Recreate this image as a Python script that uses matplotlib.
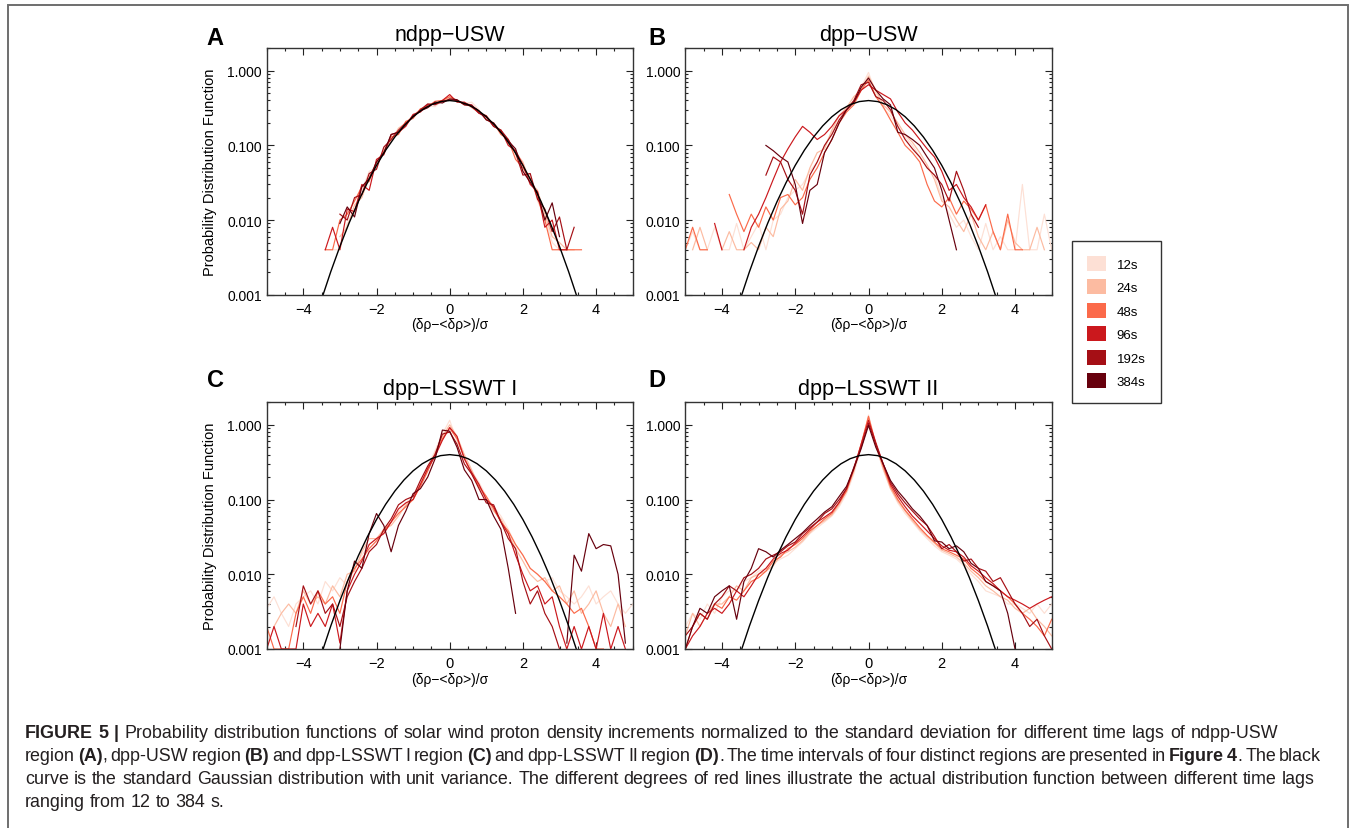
import numpy as np
import matplotlib
matplotlib.use('Agg')
import matplotlib.pyplot as plt
from matplotlib.patches import Patch, Rectangle
from matplotlib.ticker import FixedLocator, MultipleLocator, FuncFormatter, LogLocator, NullFormatter

plt.rcParams['font.family'] = ['Liberation Sans', 'DejaVu Sans']

n = np.nan

# histogram bin centres, in units of sigma
bins = np.round(np.linspace(-5, 5, 51), 1)

lags = ['12s', '24s', '48s', '96s', '192s', '384s']
lag_colors = ['#fde0d5', '#fcbba1', '#fb6a4a', '#cb181d', '#a50f15', '#67000d']

panel_letters = ['A', 'B', 'C', 'D']
panel_titles = ['ndpp\u2212USW', 'dpp\u2212USW', 'dpp\u2212LSSWT I', 'dpp\u2212LSSWT II']

# standard gaussian
gauss_x = [-3.5, -3.25, -3.0, -2.75, -2.5, -2.25, -2.0, -1.75, -1.5, -1.25, -1.0, -0.75, -0.5, -0.25, 0.0,
           0.25, 0.5, 0.75, 1.0, 1.25, 1.5, 1.75, 2.0, 2.25, 2.5, 2.75, 3.0, 3.25, 3.5]
gauss_y = [0.00087, 0.00203, 0.00443, 0.00909, 0.0175, 0.0317, 0.054, 0.0863, 0.1295, 0.1826, 0.242, 0.3011, 0.3521, 0.3867, 0.3989,
           0.3867, 0.3521, 0.3011, 0.242, 0.1826, 0.1295, 0.0863, 0.054, 0.0317, 0.0175, 0.00909, 0.00443, 0.00203, 0.00087]

# panel A: ndpp-USW
a_12s = [n,n,n,n,n, n,n,n,n,.004, .004,.009,.012,.025,.045, .05,.09,.12,.16,.19, .26,.30,.34,.33,.40,
         .42,.40,.36,.38,.30, .23,.20,.15,.12,.075, .045,.040,.018,.011,.005, .004,.004,n,n,n, n,n,n,n,n, n]
a_24s = [n,n,n,n,n, n,n,n,n,n, .006,.008,.016,.020,.038, .058,.085,.115,.17,.20, .25,.29,.35,.37,.38,
         .44,.39,.37,.32,.28, .25,.19,.16,.105,.08, .06,.032,.025,.012,.006, .005,.004,.004,n,n, n,n,n,n,n, n]
a_48s = [n,n,n,n,n, n,n,n,.004,.004, .010,.012,.018,.028,.033, .060,.082,.13,.14,.21, .23,.31,.33,.39,.40,
         .45,.40,.35,.34,.29, .22,.20,.14,.12,.065, .050,.036,.020,.010,.004, .004,.004,.004,.004,n, n,n,n,n,n, n]
a_96s = [n,n,n,n,n, n,n,n,.004,.008, .004,.014,.013,.030,.025, .065,.075,.14,.15,.18, .26,.28,.35,.36,.40,
         .48,.38,.38,.33,.27, .24,.18,.16,.10,.085, .055,.030,.024,.008,.010, .004,.004,n,n,n, n,n,n,n,n, n]
a_192s = [n,n,n,n,n, n,n,n,n,n, .012,.010,.020,.022,.042, .048,.095,.12,.16,.20, .24,.30,.36,.35,.39,
          .41,.40,.36,.35,.27, .25,.18,.16,.12,.080, .040,.042,.019,.014,.007, .011,.004,.008,n,n, n,n,n,n,n, n]
a_384s = [n,n,n,n,n, n,n,n,n,n, .009,.015,.011,.028,.036, .060,.080,.14,.15,.19, .25,.29,.32,.38,.37,
          .42,.41,.35,.34,.29, .22,.20,.15,.115,.090, .045,.032,.023,.010,.017, .006,n,n,n,n, n,n,n,n,n, n]

# panel B: dpp-USW
b_12s = [.004,.007,.004,.004,.008, .004,.004,.009,.004,.006, .009,.004,.010,.012,.020, .025,.030,.045,.060,.100,
         .15,.22,.30,.40,.60, .95,.50,.32,.25,.18, .13,.10,.07,.05,.04, .020,.012,.008,.010,.006,
         .004,.009,.004,.006,.004, .004,.030,.004,.004,.012, .004]
b_24s = [n,.004,.008,.004,n, .004,.007,.004,.004,.005, .004,.008,.006,.014,.018, .035,.025,.050,.080,.090,
         .16,.25,.32,.45,.55, .85,.55,.35,.28,.20, .14,.11,.08,.055,.035, .018,.015,.010,.007,.012,
         .006,.004,.007,.004,.010, .005,.004,.004,.008,.004, n]
b_48s = [.004,.008,.004,.004,n, n,.022,.012,.007,.012, .008,.015,.010,.020,.022, .016,.020,.035,.050,.080,
         .12,.20,.28,.35,.55, .75,.45,.33,.22,.15, .10,.08,.06,.030,.018, .015,.020,.012,.018,.014,
         .010,.016,.007,.004,.012, .004,.004,n,n,n, n]
b_96s = [n,n,n,n,.009, .004,n,n,.004,.008, .012,.020,.035,.060,.090, .13,.18,.15,.12,.14,
         .18,.25,.30,.38,.55, .65,.55,.48,.42,.28, .20,.16,.12,.09,.07, .045,.025,.030,.020,.015,
         .010,.016,n,n,n, n,n,n,n,n, n]
b_192s = [n,n,n,n,n, n,n,n,n,n, n,.040,.070,.060,.035, .025,.012,.040,.060,.10,
          .14,.22,.30,.40,.65, .70,.45,.40,.30,.18, .12,.09,.07,.05,.04, .030,.018,.045,.025,.012,
          .008,n,n,n,n, n,n,n,n,n, n]
b_384s = [n,n,n,n,n, n,n,n,n,n, n,.10,.085,.07,.06, .030,.009,.025,.030,.08,
          .12,.20,.30,.38,.60, .80,.55,.42,.35,.15, .14,.12,.10,.07,.05, .025,.010,.004,n,n,
          n,n,n,n,n, n,n,n,n,n, n]

# panel C: dpp-LSSWT I
c_12s = [.0035,.005,.003,.002,.004, .005,.006,.004,.008,.006, .009,.007,.012,.018,.025, .030,.035,.050,.070,.090,
         .11,.17,.28,.45,.75, 1.15,.60,.38,.24,.17, .11,.08,.06,.04,.025, .018,.012,.010,.008,.009,
         .006,.005,.004,.005,.007, .004,.005,.006,.004,.003, .004]
c_24s = [n,.002,.003,.004,.003, .006,.004,.005,.004,.007, .005,.010,.011,.020,.030, .030,.040,.045,.060,.085,
         .10,.16,.25,.42,.70, 1.0,.70,.40,.25,.15, .10,.07,.055,.035,.022, .015,.010,.008,.009,.006,
         .007,.004,.006,.003,.004, .006,.003,.002,.004,.002, n]
c_48s = [.002,.001,.001,.001,.003, .005,.003,.006,.004,.005, .003,.008,.012,.016,.022, .028,.038,.050,.065,.080,
         .10,.15,.24,.40,.65, .90,.65,.36,.22,.15, .11,.075,.050,.038,.025, .018,.012,.010,.008,.006,
         .005,.004,.003,.0035,.002, .001,.001,n,n,n, n]
c_96s = [.001,.002,.001,.001,.001, .004,.002,.003,.002,.004, .0012,.006,.010,.015,.025, .030,.035,.050,.075,.090,
         .10,.16,.26,.38,.62, .92,.70,.35,.23,.16, .10,.08,.05,.035,.018, .010,.006,.007,.004,.005,
         .002,.001,.002,.001,.002, .001,.003,.001,.002,.001, n]
c_192s = [n,n,n,n,.002, .007,.004,.006,.003,.004, .002,.005,.008,.012,.020, .025,.040,.055,.085,.10,
          .11,.18,.28,.40,.75, .80,.55,.30,.22,.14, .09,.085,.050,.030,.022, .008,.004,.006,.003,.002,
          .001,n,n,n,n, n,n,n,n,n, n]
c_384s = [n,n,n,n,n, n,n,n,n,n, .001,.006,.015,.012,.035, .065,.045,.020,.045,.070,
          .12,.14,.20,.35,.85, .82,.50,.25,.18,.10, .10,.06,.04,.012,.003, n,n,n,n,n,
          n,.0012,.018,.011,.035, .022,.025,.024,.010,.0012, n]

# panel D: dpp-LSSWT II
d_12s = [.002,.003,.0025,.004,.003, .005,.006,.006,.008,.009, .011,.012,.014,.016,.018, .022,.027,.035,.042,.050,
         .060,.08,.12,.22,.50, 1.35,.55,.25,.14,.09, .065,.05,.038,.030,.024, .020,.018,.016,.013,.010,
         .008,.006,.0055,.005,.004, .004,.0035,.003,.004,.003, .004]
d_24s = [.0015,.003,.002,.003,.004, .004,.005,.007,.006,.009, .010,.011,.013,.018,.020, .023,.028,.036,.045,.052,
         .062,.085,.13,.24,.55, 1.25,.52,.26,.14,.095, .07,.052,.04,.032,.026, .021,.019,.017,.014,.011,
         .009,.007,.006,.005,.0045, .0035,.003,.0035,.0025,.002, .0015]
d_48s = [.001,.002,.003,.0025,.004, .0035,.005,.0045,.006,.008, .009,.011,.015,.017,.022, .025,.030,.038,.045,.055,
         .065,.09,.13,.25,.55, 1.30,.55,.28,.15,.10, .072,.055,.042,.033,.027, .022,.020,.018,.016,.012,
         .010,.008,.007,.006,.005, .004,.003,.0025,.002,.0015, .0025]
d_96s = [.001,.0015,.002,.003,.0035, .003,.004,.006,.005,.007, .010,.012,.016,.019,.021, .026,.032,.040,.050,.058,
         .068,.092,.14,.26,.55, 1.15,.58,.30,.16,.11, .08,.06,.048,.038,.030, .024,.021,.020,.017,.013,
         .011,.009,.0075,.006,.005, .0045,.004,.0035,.004,.0045, .005]
d_192s = [.0015,.002,.003,.0025,.004, .005,.007,.006,.009,.010, .012,.016,.018,.020,.024, .027,.035,.042,.050,.065,
          .075,.10,.14,.27,.50, 1.05,.55,.30,.17,.12, .09,.07,.055,.045,.032, .022,.025,.020,.015,.016,
          .012,.011,.008,.009,.006, .004,.003,.002,.0025,.0015, .001]
d_384s = [.001,.002,.0035,.003,.005, .006,.007,.0025,.008,.012, .022,.020,.017,.021,.025, .030,.036,.045,.055,.068,
          .08,.11,.15,.26,.48, .98,.50,.30,.18,.13, .10,.075,.06,.045,.028, .027,.022,.024,.020,.014,
          .012,.008,.007,.006,.003, .001,n,n,n,n, n]

panels = [
    [a_12s, a_24s, a_48s, a_96s, a_192s, a_384s],
    [b_12s, b_24s, b_48s, b_96s, b_192s, b_384s],
    [c_12s, c_24s, c_48s, c_96s, c_192s, c_384s],
    [d_12s, d_24s, d_48s, d_96s, d_192s, d_384s],
]

caption_lines = [
    [('FIGURE 5 |', True),
     (' Probability distribution functions of solar wind proton density increments normalized to the standard deviation for different time lags of ndpp-USW', False)],
    [('region ', False), ('(A)', True), (', dpp-USW region ', False), ('(B)', True), (' and dpp-LSSWT I region ', False),
     ('(C)', True), (' and dpp-LSSWT II region ', False), ('(D)', True),
     ('. The time intervals of four distinct regions are presented in ', False), ('Figure 4', True), ('. The black', False)],
    [('curve is the standard Gaussian distribution with unit variance. The different degrees of red lines illustrate the actual distribution function between different time lags', False)],
    [('ranging from 12 to 384 s.', False)],
]

W, H = 1356, 829
fig = plt.figure(figsize=(W / 100, H / 100), dpi=100)


def fx(px):
    return px / W


def fy(py):
    return 1 - py / H


# axes boxes in pixels: left, top, right, bottom
boxes = [(266.7, 49.3, 632.7, 295.7), (685.3, 49.3, 1051.7, 295.7),
         (266.7, 403.3, 632.7, 650.0), (685.3, 403.3, 1051.7, 650.0)]
letter_pos = [(206.7, 45), (648.3, 45), (206.7, 386.7), (648.3, 386.7)]

for i, (l, t, r, b) in enumerate(boxes):
    ax = fig.add_axes([fx(l), fy(b), (r - l) / W, (b - t) / H])
    for series, col in zip(panels[i], lag_colors):
        ax.plot(bins, series, color=col, lw=0.85)
    ax.plot(gauss_x, gauss_y, color='black', lw=1.0)

    ax.set_yscale('log')
    ax.set_ylim(0.001, 2.0)
    ax.set_xlim(-5, 5)
    ax.yaxis.set_major_locator(FixedLocator([0.001, 0.01, 0.1, 1.0]))
    ax.yaxis.set_major_formatter(FuncFormatter(lambda v, p: f'{v:.3f}'))
    ax.yaxis.set_minor_locator(LogLocator(base=10, subs=np.arange(2, 10)))
    ax.yaxis.set_minor_formatter(NullFormatter())
    ax.xaxis.set_major_locator(FixedLocator([-4, -2, 0, 2, 4]))
    ax.xaxis.set_minor_locator(MultipleLocator(0.5))
    ax.tick_params(which='both', direction='in', top=True, right=True, width=0.8, color='#222222')
    ax.tick_params(which='major', length=5)
    ax.tick_params(which='minor', length=2.5)
    ax.tick_params(axis='y', which='major', labelsize=10, pad=3.6)
    ax.tick_params(axis='x', which='major', labelsize=10.5, pad=5.2)
    for sp in ax.spines.values():
        sp.set_linewidth(1.0)
        sp.set_color('#333333')

    ax.set_title(panel_titles[i], fontsize=15.5, pad=6)
    ax.set_xlabel('(\u03b4\u03c1\u2212<\u03b4\u03c1>)/\u03c3', fontsize=10)
    ax.xaxis.set_label_coords(0.5, -0.092)
    if i in (0, 2):
        ax.set_ylabel('Probability Distribution Function', fontsize=10.5)
        ax.yaxis.set_label_coords(-0.137, 0.5)

    lx, ly = letter_pos[i]
    fig.text(fx(lx), fy(ly), panel_letters[i], fontsize=17, fontweight='bold', ha='left', va='baseline')

# legend
handles = [Patch(facecolor=c, edgecolor='none') for c in lag_colors]
fig.legend(handles, lags, loc='upper left', bbox_to_anchor=(fx(1072.3), fy(241.7)), borderaxespad=0,
           fontsize=9.5, frameon=True, fancybox=False, edgecolor='#333333', framealpha=1,
           handlelength=1.4, handleheight=1.35, labelspacing=0.66, handletextpad=0.8, borderpad=1.15)

# outer frame round the figure and caption
fig.add_artist(Rectangle((fx(8), fy(840)), (1348 - 8) / W, (840 - 6) / H, transform=fig.transFigure,
                         fill=False, edgecolor='#6e6e6e', lw=1.4, clip_on=False))

# caption, justified word by word
renderer = fig.canvas.get_renderer()
cap_size = 12.9
cap_x0 = 25
cap_baselines = [737.7, 760.7, 783.7, 806.7]
cap_right = [1278, 1321, 1315, None]

probe1 = fig.text(0, 0, 'x x', fontsize=cap_size)
probe2 = fig.text(0, 0, 'xx', fontsize=cap_size)
space_w = probe1.get_window_extent(renderer).width - probe2.get_window_extent(renderer).width
probe1.remove()
probe2.remove()

for chunks, yb, right in zip(caption_lines, cap_baselines, cap_right):
    words = []
    pending = False
    for text, bold in chunks:
        parts = text.split(' ')
        for j, p in enumerate(parts):
            if j > 0:
                pending = True
            if p:
                words.append((p, bold, pending and len(words) > 0))
                pending = False
    arts, widths = [], []
    for p, bold, sp in words:
        t = fig.text(0, fy(yb), p, fontsize=cap_size, fontweight='bold' if bold else 'normal',
                     ha='left', va='baseline', color='#231f20')
        arts.append(t)
        widths.append(t.get_window_extent(renderer).width)
    n_sp = sum(1 for w in words if w[2])
    gap = space_w
    if right is not None and n_sp > 0:
        gap = max((right - cap_x0 - sum(widths)) / n_sp, 0.3 * space_w)
    x = cap_x0
    for t, w, word in zip(arts, widths, words):
        if word[2]:
            x += gap
        t.set_x(fx(x))
        x += w

fig.savefig('out.png', dpi=100)
